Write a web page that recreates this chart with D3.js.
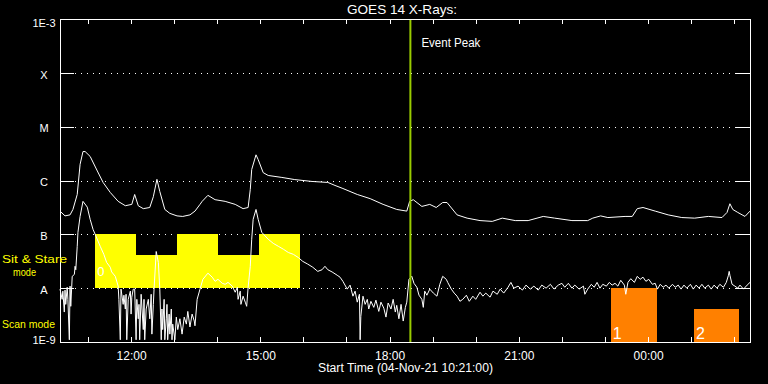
<!DOCTYPE html>
<html><head><meta charset="utf-8">
<script src="https://cdn.jsdelivr.net/npm/d3@7"></script>
<style>html,body{margin:0;padding:0;background:#000;} svg{display:block;}</style>
</head><body>
<svg id="c" width="768" height="384"></svg>
<script>
// ---------------- DATA ----------------
const titleText = "GOES 14 X-Rays:";
const xTitle = "Start Time (04-Nov-21 10:21:00)";
const startTime = "2021-11-04T10:21:00Z";
const endTime = "2021-11-05T02:22:00Z";
const eventPeakMin = 488;           // minutes after start
const eventLabel = "Event Peak";
const levelLabels = ["1E-9","A","B","C","M","X","1E-3"];
const levelValues = [1e-9,1e-8,1e-7,1e-6,1e-5,1e-4,1e-3];

// long channel (upper curve): minutes after start, flux W/m^2
const longMin = [0,7,14,18,24,28,32,35,42,52,60,70,81,91,100,104,109,116,125,130,135,139,146,153,163,171,181,188,195,198,206,216,230,244,255,262,265,267,273,276,283,290,309,327,351,373,383,394,414,432,450,469,483,487,492,504,515,524,533,539,553,567,585,602,616,634,652,673,689,713,735,742,753,763,787,797,804,812,829,847,866,884,903,922,929,933,937,944,954,961];
const longFlux = [2.7e-7,2.2e-7,2.3e-7,2.9e-7,5.5e-7,2.0e-6,3.45e-6,3.45e-6,2.8e-6,1.5e-6,9.2e-7,6.0e-7,4.1e-7,3.4e-7,3.6e-7,5.5e-7,3.4e-7,3.0e-7,3.15e-7,5.0e-7,1.05e-6,6.25e-7,2.9e-7,2.45e-7,2.2e-7,2.15e-7,2.3e-7,2.7e-7,3.6e-7,4.1e-7,5.3e-7,4.4e-7,4.1e-7,3.6e-7,3.0e-7,3.15e-7,6.8e-7,1.6e-6,3.0e-6,2.45e-6,1.4e-6,1.24e-6,1.14e-6,1.04e-6,9.6e-7,9.2e-7,8.1e-7,7.1e-7,5.5e-7,4.6e-7,3.6e-7,2.9e-7,2.7e-7,4.1e-7,4.4e-7,3.3e-7,3.6e-7,3.15e-7,3.9e-7,3.9e-7,2.3e-7,2.0e-7,1.8e-7,1.74e-7,2.0e-7,1.8e-7,1.8e-7,2.15e-7,2.0e-7,1.8e-7,1.8e-7,2.0e-7,2.2e-7,2.05e-7,2.15e-7,2.15e-7,3.0e-7,3.15e-7,2.7e-7,2.3e-7,2.05e-7,2.0e-7,2.15e-7,2.05e-7,2.55e-7,3.7e-7,2.9e-7,2.55e-7,2.15e-7,2.7e-7];

// short channel (lower curve)
const shortMin = [0,3,4,6,7,8,10,11,13,14,15,17,20,21,22,24,25,28,32,38,42,46,49,56,61,65,70,72,77,81,82,84,85,88,89,91,92,93,95,98,99,100,102,104,106,107,109,110,111,113,116,117,118,120,123,125,127,128,130,131,134,137,139,141,142,143,145,146,148,149,150,152,153,155,156,157,160,162,164,167,170,173,176,178,181,184,187,188,191,195,199,206,212,216,220,226,230,234,240,244,247,248,251,252,255,258,260,262,265,267,269,273,276,281,290,297,304,311,318,325,332,338,345,352,359,365,369,373,379,386,390,394,400,404,408,411,414,417,418,419,422,425,428,430,433,437,440,444,447,451,454,457,461,464,467,469,472,475,478,481,483,486,490,493,497,500,504,506,508,511,515,520,525,529,533,538,540,545,549,553,557,561,566,570,575,579,585,589,593,599,603,609,613,618,624,628,632,638,644,649,655,660,666,671,677,683,688,694,699,703,708,713,717,723,729,731,735,740,744,748,752,756,761,765,769,773,777,781,786,788,791,795,800,804,808,812,816,820,825,829,832,836,840,844,848,853,857,861,865,869,873,878,882,886,890,894,898,903,907,911,915,919,924,928,931,932,933,936,940,944,947,952,957,961];
const shortFlux = [9.6e-9,6.2e-9,8.8e-9,3.6e-9,9.2e-9,5.0e-9,1.04e-8,6.2e-9,1.1e-9,1.09e-8,4.6e-9,1.66e-8,1.8e-8,2.55e-8,2.2e-8,6.0e-8,1.09e-7,2.16e-7,4.1e-7,3.2e-7,1.9e-7,1.24e-7,1.0e-7,6.0e-8,4.25e-8,3.0e-8,2.45e-8,2.0e-8,1.66e-8,1.09e-8,6.2e-9,1.1e-9,9.6e-9,5.0e-9,7.4e-9,4.1e-9,7.7e-9,1.1e-9,6.2e-9,8.8e-9,3.3e-9,6.8e-9,9.6e-9,9.6e-9,1.1e-9,6.2e-9,2.7e-9,5.0e-9,1.1e-9,7.7e-9,1.7e-9,6.2e-9,1.1e-9,4.1e-9,6.2e-9,2.7e-9,7.7e-9,1.4e-9,5.0e-9,9.6e-9,4.8e-8,3.0e-8,9.6e-9,1.1e-9,4.1e-9,1.7e-9,6.2e-9,1.1e-9,2.7e-9,5.0e-9,1.1e-9,3.3e-9,1.4e-9,4.1e-9,1.1e-9,2.15e-9,1.1e-9,2.9e-9,1.7e-9,2.7e-9,1.4e-9,2.9e-9,2.15e-9,3.7e-9,1.9e-9,3.3e-9,2.45e-9,2.0e-9,6.2e-9,9.6e-9,1.46e-8,1.9e-8,1.6e-8,1.34e-8,1.46e-8,1.23e-8,1.18e-8,1.28e-8,1.09e-8,8.4e-9,1.04e-8,6.2e-9,8.8e-9,5.0e-9,7.1e-9,5.5e-9,4.6e-9,1.04e-8,2.55e-8,8.1e-8,1.9e-7,2.9e-7,1.9e-7,1.09e-7,8.1e-8,6.8e-8,6.0e-8,5.3e-8,4.6e-8,4.25e-8,3.7e-8,3.15e-8,2.8e-8,2.45e-8,2.05e-8,2.2e-8,2.55e-8,2.2e-8,2.0e-8,1.74e-8,1.6e-8,1.34e-8,9.6e-9,1.14e-8,7.1e-9,8.8e-9,5.5e-9,7.7e-9,1.1e-9,3.0e-9,7.1e-9,5.0e-9,6.2e-9,4.1e-9,5.7e-9,4.4e-9,6.0e-9,3.7e-9,5.5e-9,4.25e-9,2.9e-9,5.3e-9,4.1e-9,6.2e-9,3.6e-9,4.8e-9,2.7e-9,5.0e-9,2.45e-9,4.4e-9,5.5e-9,1.46e-8,1.66e-8,1.23e-8,1.04e-8,7.4e-9,6.2e-9,4.4e-9,8.8e-9,7.4e-9,9.6e-9,8.1e-9,7.1e-9,1.18e-8,1.66e-8,1.46e-8,1.28e-8,9.6e-9,8.1e-9,7.1e-9,5.7e-9,6.2e-9,7.4e-9,5.7e-9,7.1e-9,6.2e-9,8.4e-9,7.1e-9,8.1e-9,6.8e-9,8.8e-9,7.7e-9,9.6e-9,8.1e-9,1.04e-8,1.28e-8,1.0e-8,1.09e-8,9.2e-9,1.14e-8,9.6e-9,1.09e-8,9.2e-9,1.14e-8,1.0e-8,1.18e-8,9.6e-9,1.14e-8,1.23e-8,1.04e-8,1.23e-8,1.0e-8,1.14e-8,9.6e-9,1.09e-8,7.7e-9,9.6e-9,1.18e-8,1.04e-8,1.28e-8,1.0e-8,1.18e-8,1.09e-8,1.28e-8,1.14e-8,1.23e-8,1.09e-8,1.4e-8,1.14e-8,7.7e-9,1.28e-8,1.5e-8,1.28e-8,1.66e-8,1.46e-8,1.6e-8,1.34e-8,1.46e-8,1.18e-8,1.23e-8,9.6e-9,1.18e-8,1.04e-8,1.14e-8,1.0e-8,1.18e-8,1.04e-8,1.14e-8,9.6e-9,1.14e-8,1.0e-8,1.18e-8,9.6e-9,1.14e-8,1.0e-8,1.18e-8,1.0e-8,1.14e-8,9.6e-9,1.14e-8,1.0e-8,1.18e-8,1.04e-8,1.28e-8,1.74e-8,2.05e-8,1.74e-8,1.18e-8,1.09e-8,1.0e-8,1.14e-8,9.6e-9,1.14e-8,1.28e-8];

// Sit & Stare mode blocks
const modeStart = [49,106,163,220,277];
const modeEnd   = [106,163,220,277,334];
const modeTop   = [1e-7,4.1e-8,1e-7,4.1e-8,1e-7];
const modeBottom = 1e-8;
const modeLabel = "0";
// Scan blocks
const scanStart = [767,883];
const scanEnd   = [832,946];
const scanTop   = [1e-8,4.1e-9];
const scanBottom = 1e-9;
const scanLabels = ["1","2"];

// ---------------- CHART ----------------
const W=768,H=384, X0=60, X1=750, YT=19, YB=342;
const FONT = "'Liberation Sans', Arial, sans-serif";
const svg = d3.select("#c");
svg.append("rect").attr("width",W).attr("height",H).attr("fill","#000");

const parseT = d3.utcParse("%Y-%m-%dT%H:%M:%SZ");
const t0 = parseT(startTime), t1 = parseT(endTime);
const tm = m => new Date(t0.getTime()+m*60000);
const x = d3.scaleUtc().domain([t0,t1]).range([X0,X1]);
const y = d3.scaleLog().domain([1e-9,1e-3]).range([YB,YT]).clamp(true);

// dotted grid
svg.append("g").selectAll("line").data(levelValues.slice(1,-1)).join("line")
  .attr("x1",X0+15).attr("x2",X1-14)
  .attr("y1",d=>Math.round(y(d))+0.5).attr("y2",d=>Math.round(y(d))+0.5)
  .attr("stroke","#fff").attr("stroke-dasharray","1 5").attr("shape-rendering","crispEdges");

// mode blocks
const modes = modeStart.map((s,i)=>({s,e:modeEnd[i],top:modeTop[i]}));
svg.append("g").selectAll("rect").data(modes).join("rect")
  .attr("x",d=>x(tm(d.s))).attr("width",d=>x(tm(d.e))-x(tm(d.s)))
  .attr("y",d=>y(d.top)).attr("height",d=>y(modeBottom)-y(d.top))
  .attr("fill","#ffff00").attr("shape-rendering","crispEdges");
svg.append("text").text(modeLabel).attr("x",x(tm(modeStart[0]))+2).attr("y",y(modeBottom)-12)
  .attr("fill","#fff").attr("font-family",FONT).attr("font-size",13);

const scans = scanStart.map((s,i)=>({s,e:scanEnd[i],top:scanTop[i],lab:scanLabels[i]}));
svg.append("g").selectAll("rect").data(scans).join("rect")
  .attr("x",d=>x(tm(d.s))).attr("width",d=>x(tm(d.e))-x(tm(d.s)))
  .attr("y",d=>y(d.top)).attr("height",d=>y(scanBottom)-y(d.top))
  .attr("fill","#ff8000").attr("shape-rendering","crispEdges");
svg.append("g").selectAll("text").data(scans).join("text")
  .text(d=>d.lab).attr("x",d=>x(tm(d.s))+2).attr("y",YB-3)
  .attr("fill","#fff").attr("font-family",FONT).attr("font-size",16);

// curves
const line = d3.line().x(d=>x(tm(d[0]))).y(d=>y(d[1]));
svg.append("path").datum(longMin.map((m,i)=>[m,longFlux[i]]))
  .attr("d",line).attr("fill","none").attr("stroke","#fff").attr("stroke-width",1);
svg.append("path").datum(shortMin.map((m,i)=>[m,shortFlux[i]]))
  .attr("d",line).attr("fill","none").attr("stroke","#fff").attr("stroke-width",1);

// event line
const ex = x(tm(eventPeakMin));
svg.append("line").attr("x1",ex).attr("x2",ex).attr("y1",YT).attr("y2",YB)
  .attr("stroke","#99cc00").attr("stroke-width",2);
svg.append("text").text(eventLabel).attr("x",ex+11).attr("y",47)
  .attr("fill","#fff").attr("font-family",FONT).attr("font-size",12)
  .attr("textLength",59).attr("lengthAdjust","spacingAndGlyphs");

// axes
const hours = d3.utcHour.every(1).range(t0,t1);
const fmt = d3.utcFormat("%H:%M");
function styleAxis(g){
  g.attr("color","#fff").attr("font-family",FONT).attr("font-size",12);
  g.selectAll("path,line").attr("shape-rendering","crispEdges");
}
svg.append("g").attr("transform",`translate(0,${YB})`)
  .call(d3.axisBottom(x).tickValues(hours).tickSizeInner(-5).tickSizeOuter(0).tickPadding(9)
    .tickFormat(d=>d.getUTCHours()%3===0?fmt(d):""))
  .call(styleAxis);
svg.append("g").attr("transform",`translate(0,${YT})`)
  .call(d3.axisTop(x).tickValues(hours).tickSizeInner(-5).tickSizeOuter(0).tickFormat(""))
  .call(styleAxis);
const yOff = [-2,1.5,1.5,1.5,1.5,1.5,4];
svg.append("g").attr("transform",`translate(${X0},0)`)
  .call(d3.axisLeft(y).tickValues(levelValues).tickSizeInner(-14).tickSizeOuter(0)
    .tickFormat((d,i)=>levelLabels[i]))
  .call(styleAxis)
  .call(g=>g.selectAll(".tick text").attr("x",-16).attr("text-anchor","middle")
    .attr("font-size",11).attr("dy",(d,i)=>(yOff[i]+3.8)+"px"));
svg.append("g").attr("transform",`translate(${X1},0)`)
  .call(d3.axisRight(y).tickValues(levelValues).tickSizeInner(-14).tickSizeOuter(0).tickFormat(""))
  .call(styleAxis);

// titles
svg.append("text").text(titleText).attr("x",(X0+X1)/2-3).attr("y",14).attr("text-anchor","middle")
  .attr("fill","#fff").attr("font-family",FONT).attr("font-size",13)
  .attr("textLength",110).attr("lengthAdjust","spacingAndGlyphs");
svg.append("text").text(xTitle).attr("x",405.5).attr("y",372).attr("text-anchor","middle")
  .attr("fill","#fff").attr("font-family",FONT).attr("font-size",12)
  .attr("textLength",175).attr("lengthAdjust","spacingAndGlyphs");

// side labels
const side = [["Sit & Stare",2,263,65],["mode",13,276,23],["Scan mode",2,328,53]];
svg.append("g").selectAll("text").data(side).join("text")
  .text(d=>d[0]).attr("x",d=>d[1]).attr("y",d=>d[2])
  .attr("fill","#ffff00").attr("font-family",FONT).attr("font-size",10.5)
  .attr("textLength",d=>d[3]).attr("lengthAdjust","spacingAndGlyphs");
</script>
</body></html>
